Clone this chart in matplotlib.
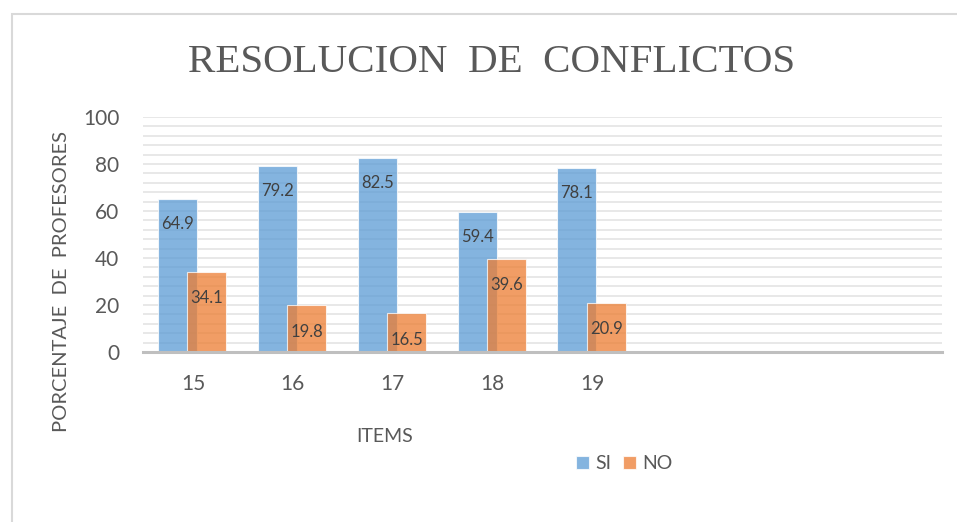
import numpy as np
import matplotlib.pyplot as plt
from matplotlib.patches import Rectangle
from matplotlib.ticker import MultipleLocator

# data
items = ['15', '16', '17', '18', '19']
n_slots = 8  # excel left room for 3 more empty categories
si_vals = [64.9, 79.2, 82.5, 59.4, 78.1]
no_vals = [34.1, 19.8, 16.5, 39.6, 20.9]

title_txt = 'RESOLUCION  DE  CONFLICTOS'
ylabel_txt = 'PORCENTAJE  DE  PROFESORES'
xlabel_txt = 'ITEMS'

plt.rcParams['font.family'] = ['Lato', 'DejaVu Sans']
grey_txt = '#595959'

fig = plt.figure(figsize=(9.57, 5.22), dpi=100)
ax = fig.add_axes([143/957, 1 - 352/522, 799/957, 235/522])

x = np.arange(len(items))
w = 0.39
ax.bar(x - 0.155, si_vals, w, color='#5B9BD5', alpha=0.75, edgecolor='white', linewidth=0.8, label='SI', zorder=2)
ax.bar(x + 0.14, no_vals, w, color='#ED7D31', alpha=0.75, edgecolor='white', linewidth=0.8, label='NO', zorder=3)

# value labels sit inside the bar, just under the top
for xi, v in zip(x, si_vals):
    ax.annotate(f'{v}', (xi - 0.155, v), xytext=(0, -18), textcoords='offset points',
                ha='center', va='center', fontsize=12, color='#404040', zorder=4)
for xi, v in zip(x, no_vals):
    ax.annotate(f'{v}', (xi + 0.14, v), xytext=(0, -19), textcoords='offset points',
                ha='center', va='center', fontsize=12, color='#404040', zorder=4)

ax.set_xlim(-0.5, n_slots - 0.5)
ax.set_ylim(0, 100)
ax.set_xticks(x)
ax.set_xticklabels(items)
ax.set_yticks([0, 20, 40, 60, 80, 100])
ax.yaxis.set_minor_locator(MultipleLocator(4))
ax.tick_params(axis='both', which='both', length=0, labelsize=15, labelcolor=grey_txt)
ax.tick_params(axis='y', pad=17)
ax.tick_params(axis='x', pad=16)

ax.grid(axis='y', which='both', color='#E6E6E6', linewidth=1.3)
ax.set_axisbelow(True)
for s in ['left', 'right', 'top']:
    ax.spines[s].set_visible(False)
ax.spines['bottom'].set_color('#BFBFBF')
ax.spines['bottom'].set_linewidth(2.2)
ax.spines['bottom'].set_zorder(5)

fig.text(492/957, 1 - 62/522, title_txt, ha='center', va='center', fontsize=29.5,
         family='Liberation Serif', color=grey_txt)
fig.text(62/957, 1 - 282/522, ylabel_txt, rotation=90, ha='center', va='center',
         fontsize=14.5, color=grey_txt)
fig.text(385/957, 1 - 437/522, xlabel_txt, ha='center', va='center', fontsize=14, color=grey_txt)

fig.legend(loc='center', bbox_to_anchor=(624/957, 1 - 464/522), ncol=2, frameon=False,
           fontsize=14, labelcolor=grey_txt, handlelength=0.7, handleheight=0.7,
           handletextpad=0.3, columnspacing=0.6)

# light outer frame, cut by the image edges
fig.add_artist(Rectangle((12/957, -0.02), 1.0, 1 - 14/522 + 0.02, transform=fig.transFigure,
                         fill=False, edgecolor='#D9D9D9', linewidth=1.5))

fig.savefig('out.png', dpi=100)
